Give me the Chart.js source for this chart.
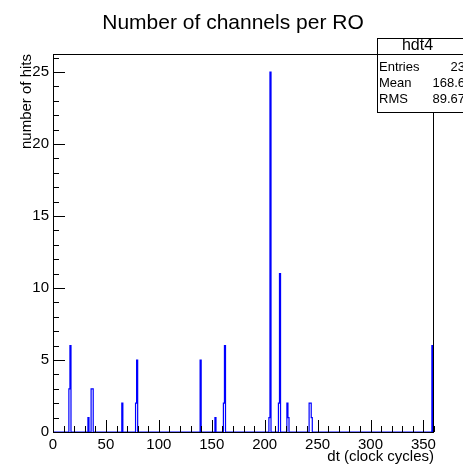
<!DOCTYPE html>
<html>
<head>
<meta charset="utf-8">
<script src="https://cdn.jsdelivr.net/npm/chart.js@4.4.0/dist/chart.umd.min.js"></script>
<style>
  html, body { margin: 0; padding: 0; background: #fff; }
  canvas { display: block; }
</style>
</head>
<body>
<canvas id="hist" width="463" height="465"></canvas>
<script>
// histogram hdt4: one bin per clock cycle, only the filled bins are listed
const nBins = 360;
const binLow = [16, 17, 34, 37, 38, 66, 79, 80, 140, 154, 162, 163, 205, 206, 214, 215, 222, 223, 243, 244, 245, 359];
const binCounts = [3, 6, 1, 3, 3, 2, 2, 5, 5, 1, 2, 6, 1, 25, 2, 11, 2, 1, 2, 2, 1, 6];

const statNames = ["Entries", "Mean", "RMS"];
const statValues = ["23", "168.6", "89.67"];

const histTitle = "Number of channels per RO";
const xTitle = "dt (clock cycles)";
const yTitle = "number of hits";
const statTitle = "hdt4";

const FONT = "'Liberation Sans', Arial, Helvetica, sans-serif";

// step outline points
const counts = new Array(nBins).fill(0);
binLow.forEach((b, i) => { counts[b] = binCounts[i]; });
const points = counts.map((c, i) => ({ x: i, y: c }));
points.push({ x: nBins, y: 0 });

const rootStyle = {
    id: "rootStyle",
    beforeDraw(chart) {
        const ctx = chart.ctx;
        ctx.save();
        ctx.fillStyle = "#fff";
        ctx.fillRect(0, 0, chart.width, chart.height);
        ctx.restore();
    },
    afterDatasetsDraw(chart) {
        const ctx = chart.ctx;
        const a = chart.chartArea;
        const xs = chart.scales.x;
        const ys = chart.scales.y;
        ctx.save();
        ctx.strokeStyle = "#000";
        ctx.lineWidth = 1;

        // frame
        ctx.strokeRect(Math.round(a.left) + 0.5, Math.round(a.top) + 0.5,
            Math.round(a.right - a.left) - 1, Math.round(a.bottom - a.top));

        // ticks, drawn inside the frame
        ctx.beginPath();
        for (let v = 0; v <= 360; v += 10) {
            const px = Math.round(xs.getPixelForValue(v)) + 0.5;
            const len = v % 50 === 0 ? 12 : 6;
            ctx.moveTo(px, a.bottom);
            ctx.lineTo(px, a.bottom - len);
        }
        for (let v = 0; v <= 26; v++) {
            const py = Math.round(ys.getPixelForValue(v)) + 0.5;
            const len = v % 5 === 0 ? 12 : 6;
            ctx.moveTo(a.left, py);
            ctx.lineTo(a.left + len, py);
        }
        ctx.stroke();

        ctx.fillStyle = "#000";

        // title
        ctx.font = "21px " + FONT;
        ctx.textAlign = "center";
        ctx.textBaseline = "alphabetic";
        ctx.fillText(histTitle, 233, 29);

        // axis titles
        ctx.font = "15px " + FONT;
        ctx.textAlign = "right";
        ctx.fillText(xTitle, a.right, 461);

        ctx.save();
        ctx.translate(31, a.top);
        ctx.rotate(-Math.PI / 2);
        ctx.textAlign = "right";
        ctx.fillText(yTitle, 0, 0);
        ctx.restore();

        // stats box
        const bx = 377, by = 38, bw = 100, bh = 74;
        ctx.fillStyle = "#fff";
        ctx.fillRect(bx, by, bw, bh);
        ctx.strokeRect(bx + 0.5, by + 0.5, bw, bh);
        ctx.beginPath();
        ctx.moveTo(bx, 54.5);
        ctx.lineTo(bx + bw, 54.5);
        ctx.stroke();

        ctx.fillStyle = "#000";
        ctx.font = "16px " + FONT;
        ctx.textAlign = "center";
        ctx.fillText(statTitle, 417.5, 50);

        ctx.font = "13px " + FONT;
        const rowY = [71, 87, 103];
        statNames.forEach((name, i) => {
            ctx.textAlign = "left";
            ctx.fillText(name, 379, rowY[i]);
            ctx.textAlign = "right";
            ctx.fillText(statValues[i], 465, rowY[i]);
        });
        ctx.restore();
    }
};

const ctx = document.getElementById("hist").getContext("2d");

new Chart(ctx, {
    type: "line",
    data: {
        datasets: [{
            label: statTitle,
            data: points,
            stepped: "after",
            borderColor: "#0000ff",
            borderWidth: 1.2,
            pointRadius: 0,
            fill: false,
            tension: 0
        }]
    },
    options: {
        responsive: false,
        animation: false,
        devicePixelRatio: 1,
        layout: { padding: { top: 54, right: 29, left: 0, bottom: 0 } },
        plugins: {
            legend: { display: false },
            title: { display: false },
            tooltip: { enabled: false }
        },
        scales: {
            x: {
                type: "linear",
                min: 0,
                max: nBins,
                grid: { display: false, drawTicks: false },
                border: { display: false },
                afterFit: s => { s.height = 33; },
                ticks: {
                    stepSize: 10,
                    autoSkip: false,
                    maxRotation: 0,
                    includeBounds: false,
                    padding: 4,
                    color: "#000",
                    font: { family: FONT, size: 15 },
                    callback: v => (v % 50 === 0 ? v : "")
                }
            },
            y: {
                min: 0,
                max: 26.25,
                grid: { display: false, drawTicks: false },
                border: { display: false },
                afterFit: s => { s.width = 53; },
                ticks: {
                    stepSize: 1,
                    autoSkip: false,
                    includeBounds: false,
                    padding: 4,
                    color: "#000",
                    font: { family: FONT, size: 15 },
                    callback: v => (v % 5 === 0 ? v : "")
                }
            }
        }
    },
    plugins: [rootStyle]
});
</script>
</body>
</html>
